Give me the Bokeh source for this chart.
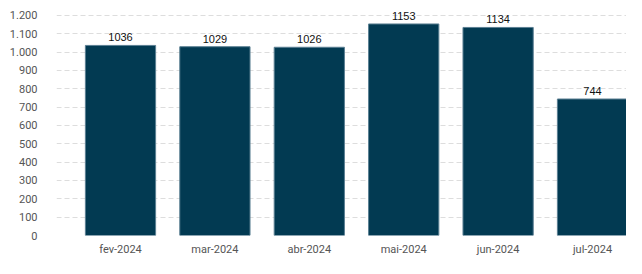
from bokeh.plotting import figure
from bokeh.models import FixedTicker, Range1d, ColumnDataSource
from bokeh.core.properties import value
from bokeh.embed import file_html
from bokeh.resources import INLINE

months = ["fev-2024", "mar-2024", "abr-2024", "mai-2024", "jun-2024", "jul-2024"]
counts = [1036, 1029, 1026, 1153, 1134, 744]
y_ticks = [0, 100, 200, 300, 400, 500, 600, 700, 800, 900, 1000, 1100, 1200]
y_tick_labels = ["0", "100", "200", "300", "400", "500", "600", "700", "800", "900", "1.000", "1.100", "1.200"]

xs = list(range(len(months)))
src = ColumnDataSource(dict(x=xs, y=counts, label=[str(c) for c in counts]))

p = figure(width=626, height=258, output_backend="svg", toolbar_location=None,
           x_range=Range1d(-0.678, 5.36), y_range=Range1d(0, 1270),
           min_border_left=56, min_border_right=0, min_border_top=2, min_border_bottom=20)
p.outline_line_color = None
p.background_fill_color = "white"
p.border_fill_color = "white"

p.vbar(x="x", top="y", width=0.744, source=src, fill_color="#023a52", line_color="#5a7f92", line_width=1)
p.text(x="x", y="y", text="label", source=src, text_align="center", text_baseline="bottom",
       y_offset=-4, text_font=value("Liberation Sans"), text_font_size="11px", text_color="#111111")

p.xaxis.ticker = FixedTicker(ticks=xs)
p.xaxis.major_label_overrides = {i: m for i, m in enumerate(months)}
p.yaxis.ticker = FixedTicker(ticks=y_ticks)
p.yaxis.major_label_overrides = {t: l for t, l in zip(y_ticks, y_tick_labels)}

for ax in (p.xaxis, p.yaxis):
    ax.axis_line_color = None
    ax.major_tick_line_color = None
    ax.minor_tick_line_color = None
    ax.major_tick_out = 0
    ax.major_tick_in = 0
    ax.minor_tick_out = 0
    ax.minor_tick_in = 0
    ax.major_label_text_font = "Roboto"
    ax.major_label_text_font_size = "11px"
    ax.major_label_text_color = "#555555"
p.yaxis.major_label_standoff = 19
p.xaxis.major_label_standoff = 7

p.xgrid.grid_line_color = None
p.ygrid.grid_line_color = "#dddddd"
p.ygrid.grid_line_dash = "5 3"
p.ygrid.grid_line_width = 1

open("out.html", "w").write(file_html(p, INLINE))
